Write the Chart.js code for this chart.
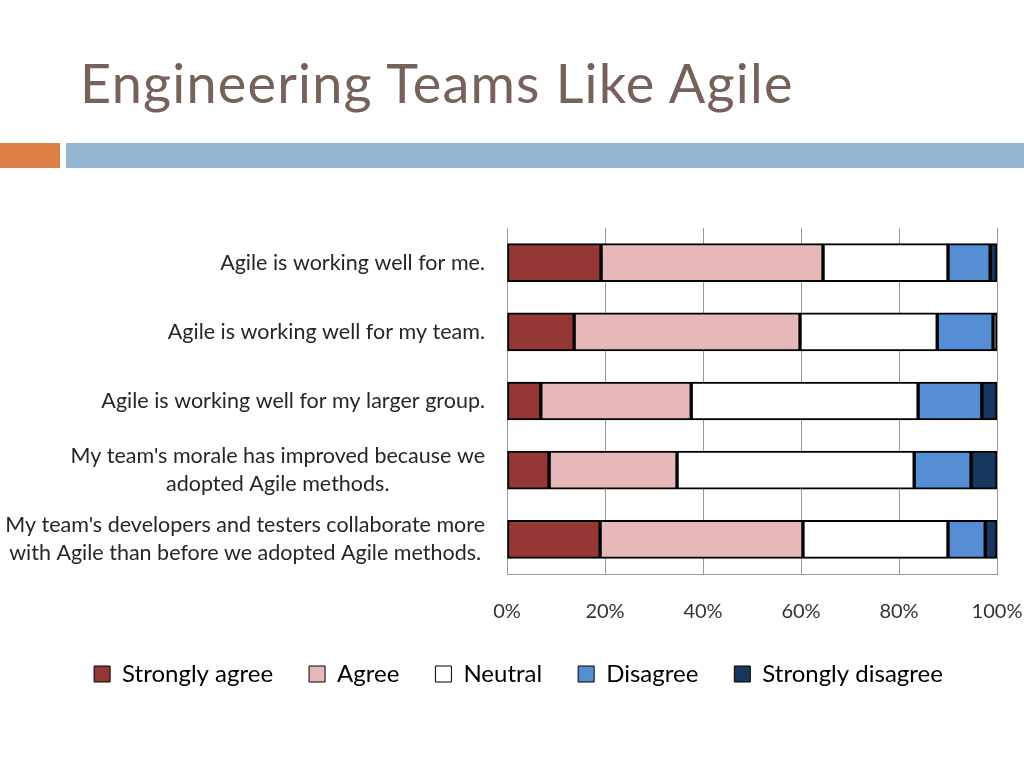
<!DOCTYPE html>
<html lang="en">
<head>
    <meta charset="UTF-8">
    <title>Engineering Teams Like Agile</title>
    <script src="https://cdn.jsdelivr.net/npm/chart.js"></script>
    <style>
        body {
            margin: 0;
            width: 1024px;
            height: 768px;
            background: #ffffff;
            position: relative;
            overflow: hidden;
        }
        #title {
            position: absolute;
            left: 80px;
            top: 50px;
            font-family: Lato, sans-serif;
            font-size: 54px;
            letter-spacing: 1.2px;
            color: #76625a;
            white-space: nowrap;
        }
        .band {
            position: absolute;
            top: 143px;
            height: 25px;
        }
        #chart-box {
            position: absolute;
            left: 0;
            top: 190px;
            width: 1024px;
            height: 578px;
        }
    </style>
</head>
<body>
    <div id="title">Engineering Teams Like Agile</div>
    <div class="band" style="left:0; width:60px; background:#dd8047;"></div>
    <div class="band" style="left:66px; width:958px; background:#94b6d2;"></div>

    <div id="chart-box">
        <canvas id="agileChart"></canvas>
    </div>

    <script>
        // Survey statements (multi-line ones split into arrays)
        const categories = [
            'Agile is working well for me.',
            'Agile is working well for my team.',
            'Agile is working well for my larger group.',
            ["My team's morale has improved because we", 'adopted Agile methods.'],
            ["My team's developers and testers collaborate more", 'with Agile than before we adopted Agile methods.']
        ];

        // Percent of responses per answer
        const stronglyAgree    = [19.2, 13.7, 6.9, 8.6, 19.0];
        const agree            = [45.3, 46.1, 30.7, 26.1, 41.4];
        const neutral          = [25.5, 28.0, 46.3, 48.4, 29.6];
        const disagree         = [8.6, 11.4, 13.0, 11.6, 7.6];
        const stronglyDisagree = [1.4, 0.8, 3.1, 5.3, 2.4];

        const xTicks = [0, 20, 40, 60, 80, 100];

        // draws the statement labels: block right-aligned, lines centered in the block
        const statementLabels = {
            id: 'statementLabels',
            afterDraw(chart) {
                const ctx = chart.ctx;
                const yScale = chart.scales.y;
                const right = chart.chartArea.left - 22;
                ctx.save();
                ctx.font = '21.5px Lato, sans-serif';
                ctx.fillStyle = '#262626';
                ctx.textAlign = 'center';
                ctx.textBaseline = 'middle';
                categories.forEach((lab, i) => {
                    const lines = Array.isArray(lab) ? lab : [lab];
                    const w = Math.max(...lines.map(l => ctx.measureText(l).width));
                    const cy = yScale.getPixelForValue(i);
                    lines.forEach((l, j) => {
                        ctx.fillText(l, right - w / 2, cy + (j - (lines.length - 1) / 2) * 28);
                    });
                });
                ctx.restore();
            }
        };

        function makeSet(label, data, color) {
            return {
                label: label,
                data: data,
                backgroundColor: color,
                borderColor: '#000000',
                borderWidth: 2,
                borderSkipped: false,
                barThickness: 38
            };
        }

        const ctx = document.getElementById('agileChart').getContext('2d');
        new Chart(ctx, {
            type: 'bar',
            data: {
                labels: categories,
                datasets: [
                    makeSet('Strongly agree', stronglyAgree, '#953735'),
                    makeSet('Agree', agree, '#e6b9b8'),
                    makeSet('Neutral', neutral, '#ffffff'),
                    makeSet('Disagree', disagree, '#558ed5'),
                    makeSet('Strongly disagree', stronglyDisagree, '#17375e')
                ]
            },
            options: {
                indexAxis: 'y',
                responsive: true,
                maintainAspectRatio: false,
                animation: false,
                layout: {
                    padding: { left: 40, right: 27, top: 38, bottom: 72 }
                },
                scales: {
                    x: {
                        stacked: true,
                        min: 0,
                        max: 100,
                        afterBuildTicks(scale) {
                            scale.ticks = xTicks.map(v => ({ value: v }));
                        },
                        afterFit(scale) {
                            // let "100%" hang past the plot edge, pull the legend up
                            scale.paddingLeft = 0;
                            scale.paddingRight = 0;
                            scale.height -= 24;
                        },
                        grid: {
                            color: '#9a9a9a',
                            lineWidth: 1,
                            drawTicks: false
                        },
                        border: { color: '#9a9a9a' },
                        ticks: {
                            padding: 26,
                            color: '#333333',
                            font: { family: 'Lato, sans-serif', size: 20 },
                            callback: v => v + '%'
                        }
                    },
                    y: {
                        stacked: true,
                        afterFit(scale) {
                            scale.width = 467;
                        },
                        grid: { display: false },
                        border: { color: '#9a9a9a' },
                        ticks: { display: false }
                    }
                },
                plugins: {
                    legend: {
                        position: 'bottom',
                        labels: {
                            boxWidth: 16,
                            boxHeight: 16,
                            padding: 36,
                            color: '#262626',
                            font: { family: 'Lato, sans-serif', size: 24 },
                            generateLabels(chart) {
                                return chart.data.datasets.map((ds, i) => ({
                                    text: ds.label,
                                    fillStyle: ds.backgroundColor,
                                    strokeStyle: '#000000',
                                    lineWidth: 1,
                                    datasetIndex: i
                                }));
                            }
                        }
                    },
                    tooltip: { enabled: false }
                }
            },
            plugins: [statementLabels]
        });
    </script>
</body>
</html>
